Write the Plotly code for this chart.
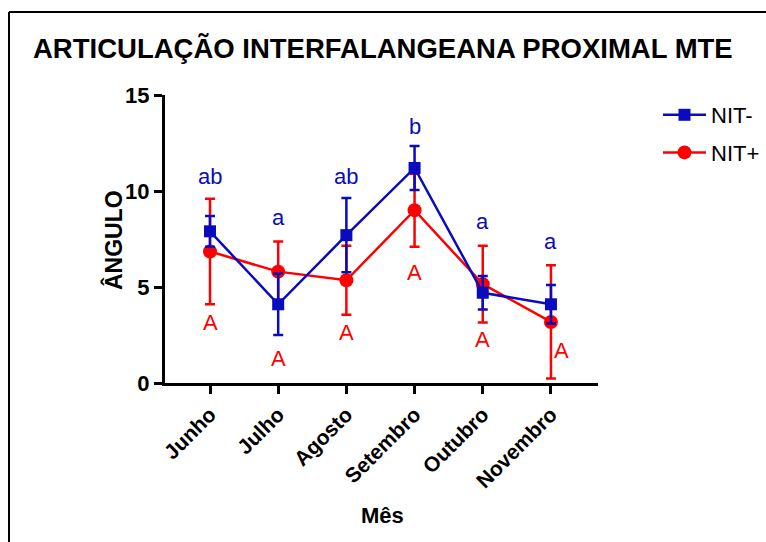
import plotly.graph_objects as go

# ---- data ----
months = ["Junho", "Julho", "Agosto", "Setembro", "Outubro", "Novembro"]
nit_neg = [7.9, 4.1, 7.7, 11.2, 4.7, 4.1]
nit_neg_err = [0.8, 1.6, 1.93, 1.15, 0.87, 1.0]
nit_pos = [6.85, 5.8, 5.35, 9.0, 5.15, 3.18]
nit_pos_err = [2.75, 1.57, 1.8, 1.9, 2.0, 2.95]
blue_letters = ["ab", "a", "ab", "b", "a", "a"]
blue_letter_y = [10.74, 8.6, 10.74, 13.35, 8.4, 7.36]
red_letters = ["A", "A", "A", "A", "A", "A"]
red_letter_y = [3.14, 1.28, 2.64, 5.74, 2.27, 1.68]
y_ticks = [0, 5, 10, 15]

BLUE = "#0A0ABE"
RED = "#FF0000"
FONT = "Liberation Sans"

xidx = list(range(len(months)))

fig = go.Figure()
fig.add_trace(go.Scatter(
    x=xidx, y=nit_pos, name="NIT+", legendgroup="pos", legendrank=2,
    mode="lines+markers",
    line=dict(color=RED, width=2.5),
    marker=dict(symbol="circle", size=14, color=RED),
    error_y=dict(type="data", array=nit_pos_err, visible=True,
                 color=RED, thickness=2.5, width=5),
    cliponaxis=False,
))
fig.add_trace(go.Scatter(
    x=xidx, y=nit_neg, name="NIT-", legendgroup="neg", legendrank=1,
    mode="lines+markers",
    line=dict(color=BLUE, width=2.5),
    marker=dict(symbol="square", size=12, color=BLUE),
    error_y=dict(type="data", array=nit_neg_err, visible=True,
                 color=BLUE, thickness=2.5, width=5),
    cliponaxis=False,
))

# plot area in pixels
L, R, T, B = 165, 598, 95, 383
def px_to_paper_x(p):
    return (p - L) / (R - L)
def py_to_paper_y(p):
    return (B - p) / (B - T)

annotations = []
for i, (t, yv) in enumerate(zip(blue_letters, blue_letter_y)):
    annotations.append(dict(x=i, y=yv, xref="x", yref="y", text=t, showarrow=False,
                            font=dict(family=FONT, size=22, color=BLUE)))
for i, (t, yv) in enumerate(zip(red_letters, red_letter_y)):
    annotations.append(dict(x=i, y=yv, xref="x", yref="y", text=t, showarrow=False,
                            xshift=11 if i == len(months) - 1 else 0,
                            font=dict(family=FONT, size=22, color=RED)))
# axis titles
annotations.append(dict(x=px_to_paper_x(382), y=py_to_paper_y(515), xref="paper", yref="paper",
                        text="<b>Mês</b>", showarrow=False, xanchor="center", yanchor="middle",
                        font=dict(family=FONT, size=22, color="black")))
annotations.append(dict(x=px_to_paper_x(113), y=py_to_paper_y(240), xref="paper", yref="paper",
                        text="<b>ÂNGULO</b>", showarrow=False, xanchor="center", yanchor="middle",
                        textangle=-90,
                        font=dict(family=FONT, size=23, color="black")))

fx = px_to_paper_x(9)
fy = py_to_paper_y(12)
shapes = [
    dict(type="line", xref="paper", yref="paper", x0=fx, x1=px_to_paper_x(800),
         y0=fy, y1=fy, line=dict(color="black", width=2)),
    dict(type="line", xref="paper", yref="paper", x0=fx, x1=fx,
         y0=fy, y1=py_to_paper_y(600), line=dict(color="black", width=2)),
]

fig.update_layout(
    width=766, height=542,
    margin=dict(l=L, r=766 - R, t=T, b=542 - B, pad=0, autoexpand=False),
    paper_bgcolor="white", plot_bgcolor="white",
    font=dict(family=FONT, color="black"),
    title=dict(text="<b>ARTICULAÇÃO INTERFALANGEANA PROXIMAL MTE</b>",
               x=33 / 766, xanchor="left", xref="container",
               y=1 - 48 / 542, yanchor="middle", yref="container",
               font=dict(family=FONT, size=27.5, color="black")),
    xaxis=dict(
        range=[-0.66, 5.69], tickmode="array", tickvals=xidx, ticktext=months,
        tickangle=-45, showgrid=False, zeroline=False,
        showline=True, linecolor="black", linewidth=3,
        ticks="outside", ticklen=8, tickwidth=3, tickcolor="black",
        tickfont=dict(family=FONT, size=21, color="black", weight="bold"),
    ),
    yaxis=dict(
        range=[0, 15], tickmode="array", tickvals=y_ticks,
        showgrid=False, zeroline=False,
        showline=True, linecolor="black", linewidth=3,
        ticks="outside", ticklen=8, tickwidth=3, tickcolor="black",
        tickfont=dict(family=FONT, size=22, color="black", weight="bold"),
    ),
    legend=dict(x=px_to_paper_x(658), y=py_to_paper_y(94), xanchor="left", yanchor="top",
                traceorder="grouped", tracegroupgap=6, itemwidth=43,
                font=dict(family=FONT, size=22, color="black"),
                bgcolor="rgba(0,0,0,0)"),
    annotations=annotations,
    shapes=shapes,
)

fig.write_html("out.html")
